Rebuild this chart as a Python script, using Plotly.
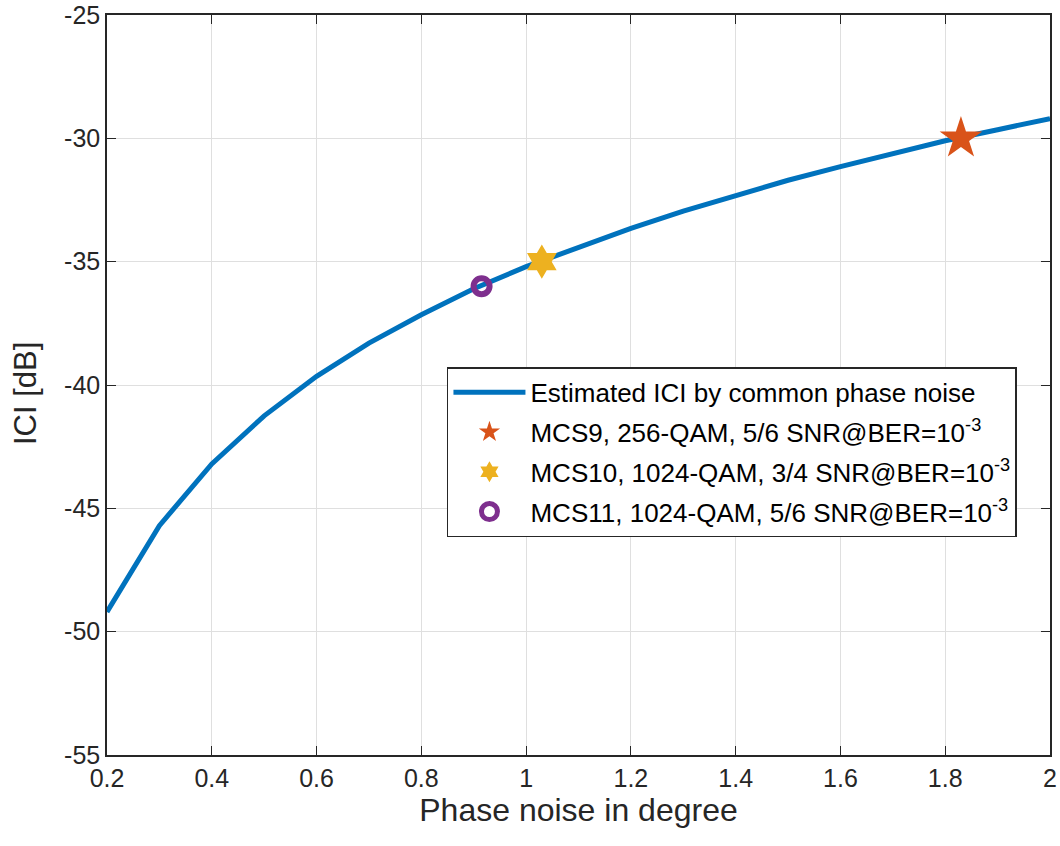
import plotly.graph_objects as go

phase_deg = [0.2, 0.3, 0.4, 0.5, 0.6, 0.7, 0.8, 0.9, 1.0, 1.1, 1.2, 1.3, 1.4, 1.5, 1.6, 1.7, 1.8, 1.9, 2.0]
ici_db = [-49.2, -45.7, -43.2, -41.25, -39.65, -38.3, -37.15, -36.1, -35.2, -34.4, -33.65, -32.95, -32.3, -31.7, -31.15, -30.6, -30.1, -29.65, -29.2]

mcs9_x = [1.83]; mcs9_y = [-30.0]
mcs10_x = [1.03]; mcs10_y = [-35.0]
mcs11_x = [0.915]; mcs11_y = [-36.0]

x_ticks = [0.2, 0.4, 0.6, 0.8, 1.0, 1.2, 1.4, 1.6, 1.8, 2.0]
x_tick_labels = ["0.2", "0.4", "0.6", "0.8", "1", "1.2", "1.4", "1.6", "1.8", "2"]
y_ticks = [-55, -50, -45, -40, -35, -30, -25]
y_tick_labels = ["-55", "-50", "-45", "-40", "-35", "-30", "-25"]

FONT = "Liberation Sans"
TXT = "#262626"

fig = go.Figure()
fig.add_trace(go.Scatter(x=phase_deg, y=ici_db, mode="lines", legendgroup="a",
                         line=dict(color="#0072BD", width=5),
                         name="Estimated ICI by common phase noise"))
fig.add_trace(go.Scatter(x=mcs9_x, y=mcs9_y, mode="markers", legendgroup="b",
                         marker=dict(symbol="star", size=32, color="#D95319", line=dict(width=0)),
                         name="MCS9, 256-QAM, 5/6 SNR@BER=10<sup>-3</sup>"))
fig.add_trace(go.Scatter(x=mcs10_x, y=mcs10_y, mode="markers", legendgroup="c",
                         marker=dict(symbol="hexagram", size=26, color="#EDB120", line=dict(width=0)),
                         name="MCS10, 1024-QAM, 3/4 SNR@BER=10<sup>-3</sup>"))
fig.add_trace(go.Scatter(x=mcs11_x, y=mcs11_y, mode="markers", legendgroup="d",
                         marker=dict(symbol="circle-open", size=16, color="#7E2F8E", line=dict(width=6, color="#7E2F8E")),
                         name="MCS11, 1024-QAM, 5/6 SNR@BER=10<sup>-3</sup>"))

axis_common = dict(showgrid=True, gridcolor="#DFDFDF", gridwidth=1, zeroline=False,
                   showline=True, linecolor=TXT, linewidth=1.5, mirror="ticks",
                   ticks="inside", ticklen=9, tickcolor=TXT, automargin=False,
                   ticklabeloverflow="allow",
                   tickfont=dict(family=FONT, size=25, color=TXT))

fig.update_layout(
    width=1060, height=846,
    margin=dict(l=107, r=10, t=15, b=91),
    paper_bgcolor="white", plot_bgcolor="white",
    font=dict(family=FONT, color=TXT),
    xaxis=dict(range=[0.2, 2.0], tickvals=x_ticks, ticktext=x_tick_labels,
               title=dict(text="Phase noise in degree", font=dict(family=FONT, size=32, color=TXT), standoff=7),
               **axis_common),
    yaxis=dict(range=[-55, -25], tickvals=y_ticks, ticktext=y_tick_labels, **axis_common),
    legend=dict(x=0.3605, y=0.524, xanchor="left", yanchor="top",
                bgcolor="white", bordercolor=TXT, borderwidth=1.5,
                font=dict(family=FONT, size=26, color="black"),
                itemwidth=72, tracegroupgap=3),
    showlegend=True,
)

# y-axis title
fig.add_annotation(text="ICI [dB]", xref="paper", yref="paper", x=0, y=0.5,
                   xanchor="center", yanchor="middle", xshift=-82, yshift=-9,
                   textangle=-90, showarrow=False,
                   font=dict(family=FONT, size=31, color=TXT))

fig.write_html("out.html", config={"displayModeBar": False},
               post_script="document.body.style.margin='0';document.body.style.overflow='hidden';")
